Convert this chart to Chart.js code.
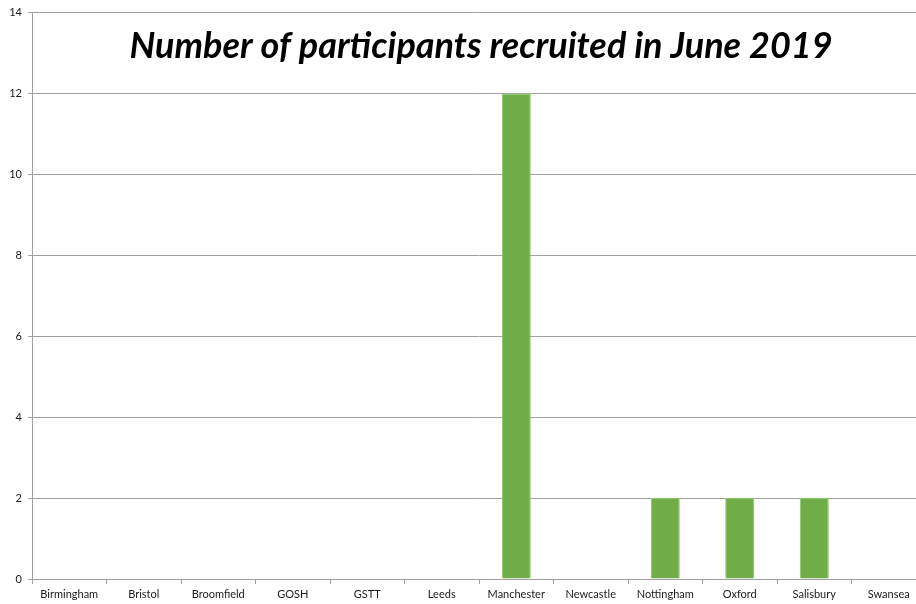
<!DOCTYPE html>
<html><head><meta charset="utf-8">
<script src="https://cdn.jsdelivr.net/npm/chart.js@4/dist/chart.umd.min.js"></script>
<style>html,body{margin:0;padding:0;overflow:hidden;background:#fff}#wrap{width:926px;height:604px}</style>
</head><body><div id="wrap"><canvas id="c" width="926" height="604"></canvas></div>
<script>
const categories = ["Birmingham","Bristol","Broomfield","GOSH","GSTT","Leeds","Manchester","Newcastle","Nottingham","Oxford","Salisbury","Swansea"];
const participants = [0,0,0,0,0,0,12,0,2,2,2,0];
const titleText = "Number of participants recruited in June 2019";
const yTicks = [0,2,4,6,8,10,12,14];

const titlePlugin = {
  id: 'overlayTitle',
  afterDraw(chart) {
    const ctx = chart.ctx;
    ctx.save();
    ctx.font = 'italic bold 36px Lato, "Open Sans", sans-serif';
    ctx.fillStyle = '#000';
    ctx.textAlign = 'center';
    ctx.textBaseline = 'middle';
    ctx.fillText(titleText, 481, 46);
    ctx.restore();
  }
};

new Chart(document.getElementById('c'), {
  type: 'bar',
  data: { labels: categories, datasets: [{ data: participants, backgroundColor: '#70AD47', borderColor: '#8cc46a', borderWidth: 1, barPercentage: 0.39, categoryPercentage: 1 }] },
  options: {
    responsive: false, animation: false,
    layout: { padding: { top: 6, right: 0, left: 0, bottom: 0 } },
    plugins: { legend: { display: false }, tooltip: { enabled: false }, title: { display: false } },
    scales: {
      x: {
        offset: true,
        grid: { offset: true, drawOnChartArea: false, drawTicks: true, tickLength: 5, color: '#a0a0a0' },
        border: { color: '#a0a0a0' },
        ticks: { color: '#1a1a1a', font: { family: 'Lato, "Open Sans", sans-serif', size: 11 }, padding: 4, maxRotation: 0, autoSkip: false },
        afterFit(s) { s.height = 25; }
      },
      y: {
        min: 0, max: 14,
        afterBuildTicks(s) { s.ticks = yTicks.map(v => ({ value: v })); },
        grid: { color: '#a0a0a0', tickLength: 4 },
        border: { color: '#a0a0a0' },
        ticks: { color: '#1a1a1a', font: { family: 'Lato, "Open Sans", sans-serif', size: 11 }, padding: 6 },
        afterFit(s) { s.width = 32; }
      }
    }
  },
  plugins: [titlePlugin]
});
</script></body></html>
